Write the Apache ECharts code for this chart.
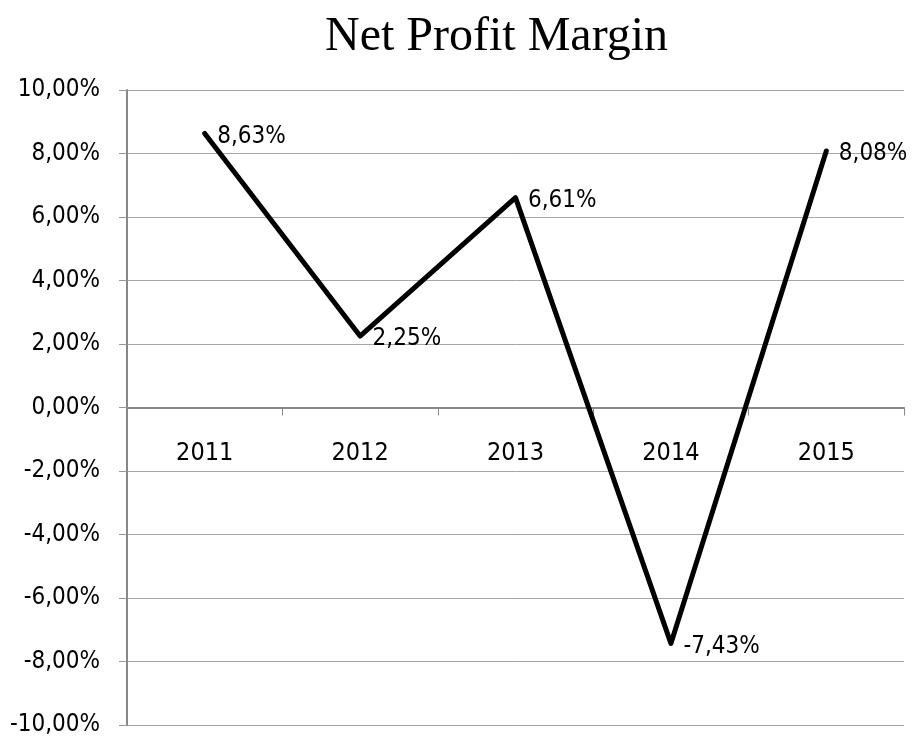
<!DOCTYPE html>
<html>
<head>
<meta charset="utf-8">
<script src="https://cdn.jsdelivr.net/npm/echarts@6/dist/echarts.min.js"></script>
<style>
  html, body { margin: 0; padding: 0; background: #fff; }
  #main { width: 913px; height: 737px; }
</style>
</head>
<body>
<div id="main"></div>
<script>
var years = ["2011", "2012", "2013", "2014", "2015"];
var margins = [8.63, 2.25, 6.61, -7.43, 8.08];

var narrow = "'DejaVu Sans Condensed', 'Liberation Sans', sans-serif";

function pct(v) {
    return v.toFixed(2).replace(".", ",") + "%";
}

var myChart = echarts.init(document.getElementById("main"));
myChart.setOption({
    animation: false,
    title: {
        text: "Net Profit Margin",
        left: 320,
        top: 8,
        textStyle: {
            fontFamily: "'Liberation Serif', serif",
            fontWeight: "normal",
            fontSize: 48,
            color: "#000"
        }
    },
    grid: {
        left: 127,
        right: 9,
        top: 90,
        bottom: 12,
        outerBoundsMode: "none",
        containLabel: false
    },
    xAxis: {
        type: "category",
        data: years,
        boundaryGap: true,
        position: "bottom",
        // axis sits on the 0% line: half the plot height up from the bottom
        offset: -317.5,
        axisLine: {
            onZero: false,
            lineStyle: { color: "#888", width: 2 }
        },
        axisTick: {
            show: true,
            inside: false,
            length: 8,
            lineStyle: { color: "#888", width: 1 }
        },
        axisLabel: {
            margin: 33,
            color: "#000",
            fontSize: 25,
            fontFamily: narrow
        }
    },
    yAxis: {
        type: "value",
        min: -10,
        max: 10,
        interval: 2,
        axisLine: {
            show: true,
            lineStyle: { color: "#888", width: 2 }
        },
        axisTick: {
            show: true,
            length: 8,
            lineStyle: { color: "#999" }
        },
        splitLine: {
            lineStyle: { color: "#a6a6a6", width: 1 }
        },
        axisLabel: {
            margin: 27,
            color: "#000",
            fontSize: 24,
            fontFamily: narrow,
            formatter: function (v) { return pct(v); }
        }
    },
    series: [{
        type: "line",
        data: margins,
        symbol: "circle",
        symbolSize: 1,
        itemStyle: { color: "#000" },
        lineStyle: { color: "#000", width: 5, join: "round", cap: "round" },
        label: {
            show: true,
            position: "right",
            distance: 12,
            offset: [0, 3],
            color: "#000",
            fontSize: 24,
            fontFamily: narrow,
            formatter: function (p) { return pct(p.value); }
        }
    }]
});
</script>
</body>
</html>
